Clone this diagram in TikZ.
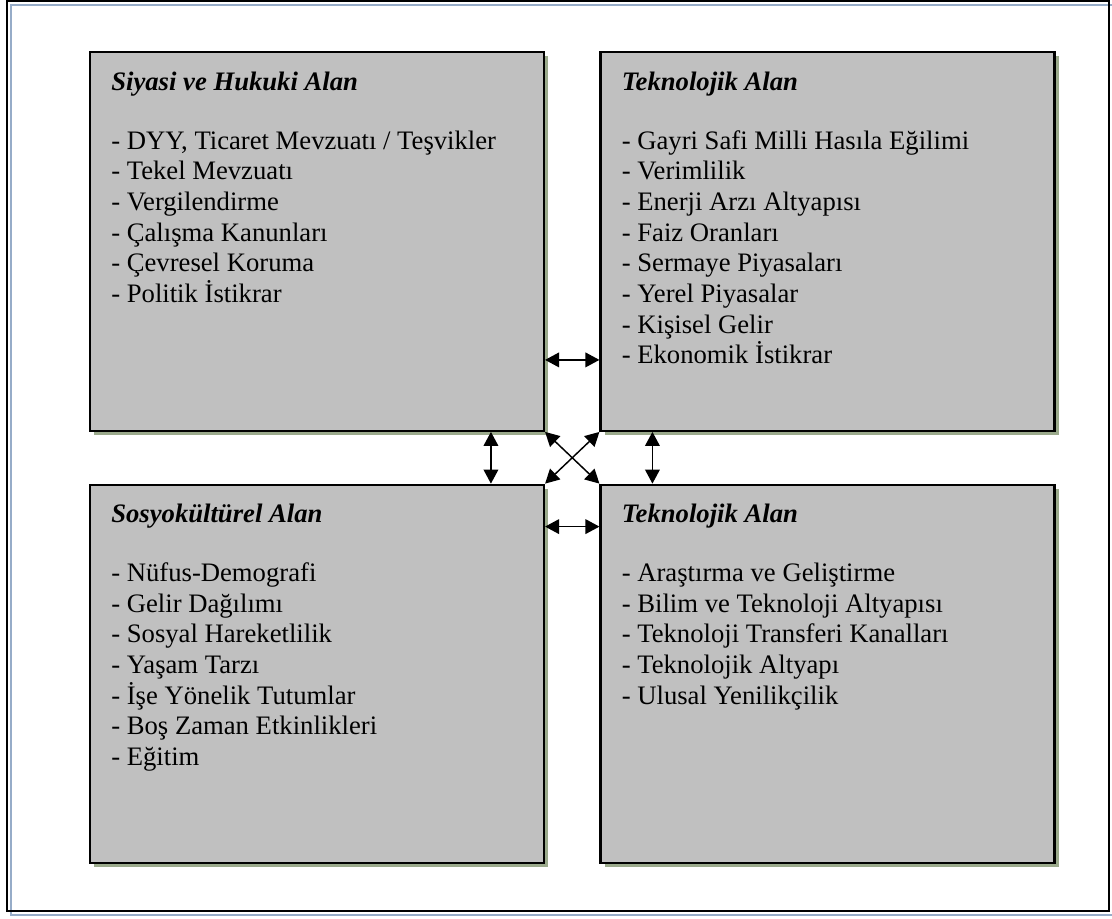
\documentclass[tikz,border=0pt]{standalone}
\usepackage{fontspec}
\setmainfont{Liberation Serif}
\usetikzlibrary{arrows.meta,shadows,calc}

\definecolor{kutugri}{RGB}{192,192,192}
\definecolor{golge}{RGB}{155,170,140}
\definecolor{cercevemavi}{RGB}{150,172,200}

\tikzset{every picture/.style={line width=0.55pt}}
\tikzset{
  alankutu/.style={draw=black, line width=1.6pt, fill=kutugri, minimum width=340.5pt, minimum height=284pt, inner sep=0pt,
    drop shadow={shadow xshift=3pt, shadow yshift=-3pt, fill=golge, opacity=1}},
  alanyazi/.style={anchor=north west, inner sep=0pt, align=left, font=\fontsize{20}{23}\selectfont},
  ciftok/.style={{Triangle[length=10.5pt,width=11pt]}-{Triangle[length=10.5pt,width=11pt]}, line width=1.1pt}
}

\begin{document}
\begin{tikzpicture}[x=0.75pt,y=0.75pt,yscale=-1,xscale=1]
            \useasboundingbox (0,0) rectangle (1112,918);
            % dis cerceve
            \draw [cercevemavi, line width=2.2pt] (11,5) rectangle (1115,915);
            \draw [line width=1.5pt] (7,1) rectangle (1109,911);
            % kutular
            \node [alankutu] (pol) at (317,241.5) {};
            \node [alankutu] (eko) at (827.5,241.5) {};
            \node [alankutu] (sos) at (317,674) {};
            \node [alankutu] (tek) at (827.5,674) {};
            % yazilar
            \node [alanyazi] (polyazi) at ($(pol.north west)+(22,20.5)$) {{\bfseries\itshape Siyasi ve Hukuki Alan}\\[21pt]
              - DYY, Ticaret Mevzuatı / Teşvikler\\ - Tekel Mevzuatı\\ - Vergilendirme\\ - Çalışma Kanunları\\ - Çevresel Koruma\\ - Politik İstikrar};
            \node [alanyazi] (ekoyazi) at ($(eko.north west)+(22,20.5)$) {{\bfseries\itshape Teknolojik Alan}\\[21pt]
              - Gayri Safi Milli Hasıla Eğilimi\\ - Verimlilik\\ - Enerji Arzı Altyapısı\\ - Faiz Oranları\\ - Sermaye Piyasaları\\ - Yerel Piyasalar\\ - Kişisel Gelir\\ - Ekonomik İstikrar};
            \node [alanyazi] (sosyazi) at ($(sos.north west)+(22,20.5)$) {{\bfseries\itshape Sosyokültürel Alan}\\[21pt]
              - Nüfus-Demografi\\ - Gelir Dağılımı\\ - Sosyal Hareketlilik\\ - Yaşam Tarzı\\ - İşe Yönelik Tutumlar\\ - Boş Zaman Etkinlikleri\\ - Eğitim};
            \node [alanyazi] (tekyazi) at ($(tek.north west)+(22,20.5)$) {{\bfseries\itshape Teknolojik Alan}\\[21pt]
              - Araştırma ve Geliştirme\\ - Bilim ve Teknoloji Altyapısı\\ - Teknoloji Transferi Kanalları\\ - Teknolojik Altyapı\\ - Ulusal Yenilikçilik};
            % oklar
            \draw [ciftok] ($(pol.south east)+(0,-72)$) -- ($(eko.south west)+(0,-72)$);
            \draw [ciftok] ($(sos.north east)+(0,43)$) -- ($(tek.north west)+(0,43)$);
            \draw [ciftok] ($(pol.south west)+(402,0)$) -- ($(sos.north west)+(402,0)$);
            \draw [ciftok] ($(eko.south west)+(53,0)$) -- ($(tek.north west)+(53,0)$);
            \draw [ciftok] (pol.south east) -- (tek.north west);
            \draw [ciftok] (eko.south west) -- (sos.north east);
\end{tikzpicture}
\end{document}
